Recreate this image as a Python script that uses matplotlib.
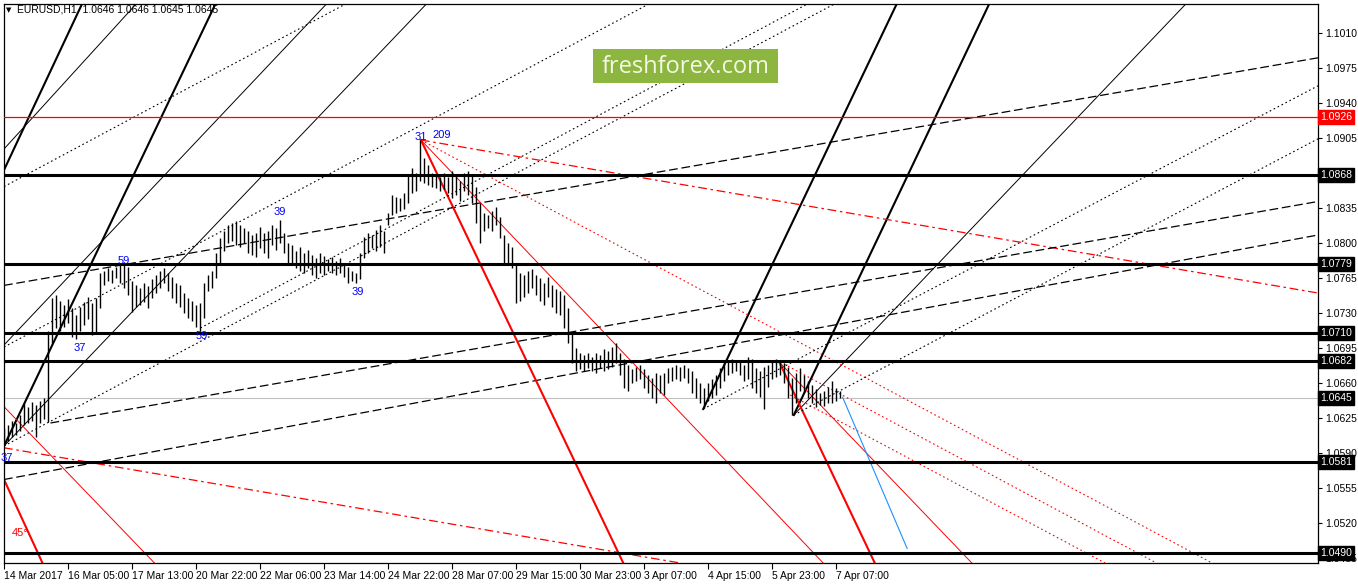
import matplotlib
matplotlib.use("Agg")
import matplotlib.pyplot as plt
import matplotlib.transforms as mtransforms
import numpy as np

plt.rcParams['font.family'] = ['Liberation Sans', 'DejaVu Sans']

# EURUSD H1 bars, one bar drawn every 2 hours (x = hour index)
highs = [1.0615, 1.0618, 1.0622, 1.0620, 1.0628, 1.0640, 1.0636, 1.0641, 1.0638, 1.0642,
         1.0645, 1.0712, 1.0745, 1.0748, 1.0742, 1.0738, 1.0744, 1.0735, 1.0728, 1.0736,
         1.0741, 1.0746, 1.0740, 1.0745, 1.0770, 1.0772, 1.0775, 1.0773, 1.0776, 1.0778,
         1.0779, 1.0776, 1.0762, 1.0758, 1.0755, 1.0760, 1.0757, 1.0764, 1.0768, 1.0772,
         1.0775, 1.0770, 1.0766, 1.0760, 1.0758, 1.0750, 1.0745, 1.0742, 1.0738, 1.0740,
         1.0760, 1.0768, 1.0772, 1.0790, 1.0805, 1.0812, 1.0818, 1.0820, 1.0822, 1.0818,
         1.0815, 1.0812, 1.0808, 1.0810, 1.0816, 1.0810, 1.0812, 1.0818, 1.0815, 1.0823,
         1.0810, 1.0800, 1.0798, 1.0792, 1.0796, 1.0790, 1.0793, 1.0788, 1.0785, 1.0790,
         1.0787, 1.0784, 1.0786, 1.0782, 1.0785, 1.0780, 1.0776, 1.0772, 1.0770, 1.0790,
         1.0806, 1.0810, 1.0808, 1.0813, 1.0818, 1.0812, 1.0830, 1.0848, 1.0846, 1.0845,
         1.0850, 1.0868, 1.0875, 1.0870, 1.0903, 1.0885, 1.0878, 1.0870, 1.0868, 1.0866,
         1.0870, 1.0866, 1.0872, 1.0868, 1.0862, 1.0870, 1.0872, 1.0868, 1.0856, 1.0840,
         1.0830, 1.0828, 1.0832, 1.0836, 1.0826, 1.0808, 1.0800, 1.0796, 1.0778, 1.0770,
         1.0768, 1.0772, 1.0774, 1.0768, 1.0765, 1.0760, 1.0766, 1.0758, 1.0754, 1.0752,
         1.0748, 1.0735, 1.0710, 1.0695, 1.0690, 1.0688, 1.0690, 1.0686, 1.0690, 1.0688,
         1.0694, 1.0692, 1.0696, 1.0700, 1.0690, 1.0684, 1.0678, 1.0674, 1.0676, 1.0678,
         1.0674, 1.0668, 1.0665, 1.0670, 1.0668, 1.0670, 1.0675, 1.0676, 1.0678, 1.0676,
         1.0678, 1.0675, 1.0672, 1.0665, 1.0660, 1.0655, 1.0660, 1.0664, 1.0668, 1.0675,
         1.0680, 1.0682, 1.0684, 1.0683, 1.0681, 1.0678, 1.0686, 1.0684, 1.0675, 1.0672,
         1.0676, 1.0678, 1.0682, 1.0684, 1.0682, 1.0680, 1.0676, 1.0665, 1.0670, 1.0675,
         1.0668, 1.0662, 1.0658, 1.0654, 1.0650, 1.0652, 1.0656, 1.0662, 1.0655, 1.0652]
lows = [1.0597, 1.0602, 1.0606, 1.0608, 1.0612, 1.0618, 1.0620, 1.0622, 1.0606, 1.0620,
        1.0624, 1.0621, 1.0700, 1.0715, 1.0712, 1.0716, 1.0720, 1.0706, 1.0704, 1.0712,
        1.0718, 1.0724, 1.0708, 1.0710, 1.0735, 1.0758, 1.0762, 1.0760, 1.0765, 1.0760,
        1.0755, 1.0748, 1.0731, 1.0736, 1.0738, 1.0741, 1.0735, 1.0745, 1.0750, 1.0755,
        1.0760, 1.0752, 1.0745, 1.0740, 1.0736, 1.0730, 1.0725, 1.0722, 1.0716, 1.0712,
        1.0725, 1.0752, 1.0755, 1.0765, 1.0780, 1.0792, 1.0800, 1.0802, 1.0798, 1.0796,
        1.0800, 1.0790, 1.0788, 1.0786, 1.0795, 1.0790, 1.0785, 1.0798, 1.0793, 1.0800,
        1.0790, 1.0780, 1.0778, 1.0775, 1.0772, 1.0770, 1.0775, 1.0768, 1.0765, 1.0770,
        1.0768, 1.0772, 1.0770, 1.0768, 1.0770, 1.0766, 1.0760, 1.0762, 1.0760, 1.0764,
        1.0785, 1.0790, 1.0795, 1.0792, 1.0796, 1.0790, 1.0818, 1.0828, 1.0830, 1.0832,
        1.0834, 1.0840, 1.0850, 1.0852, 1.0862, 1.0860, 1.0858, 1.0856, 1.0855, 1.0852,
        1.0854, 1.0850, 1.0845, 1.0848, 1.0842, 1.0852, 1.0848, 1.0840, 1.0820, 1.0800,
        1.0812, 1.0815, 1.0812, 1.0818, 1.0805, 1.0780, 1.0778, 1.0775, 1.0740, 1.0742,
        1.0746, 1.0750, 1.0755, 1.0748, 1.0742, 1.0738, 1.0746, 1.0736, 1.0730, 1.0728,
        1.0715, 1.0700, 1.0680, 1.0672, 1.0674, 1.0672, 1.0675, 1.0672, 1.0670, 1.0675,
        1.0672, 1.0674, 1.0676, 1.0680, 1.0668, 1.0655, 1.0652, 1.0660, 1.0662, 1.0664,
        1.0655, 1.0650, 1.0645, 1.0640, 1.0650, 1.0648, 1.0660, 1.0662, 1.0664, 1.0662,
        1.0665, 1.0660, 1.0650, 1.0645, 1.0640, 1.0635, 1.0642, 1.0645, 1.0648, 1.0655,
        1.0662, 1.0668, 1.0670, 1.0672, 1.0668, 1.0662, 1.0664, 1.0655, 1.0650, 1.0646,
        1.0634, 1.0656, 1.0664, 1.0666, 1.0668, 1.0660, 1.0645, 1.0628, 1.0640, 1.0652,
        1.0650, 1.0645, 1.0640, 1.0636, 1.0638, 1.0637, 1.0640, 1.0640, 1.0642, 1.0645]

# time axis labels every 32 hours
date_labels = ["14 Mar 2017", "16 Mar 05:00", "17 Mar 13:00", "20 Mar 22:00", "22 Mar 06:00",
               "23 Mar 14:00", "24 Mar 22:00", "28 Mar 07:00", "29 Mar 15:00", "30 Mar 23:00",
               "3 Apr 07:00", "4 Apr 15:00", "5 Apr 23:00", "7 Apr 07:00"]
date_pos = [0, 32, 64, 96, 128, 160, 192, 224, 256, 288, 320, 352, 384, 416]

price_ticks = [1.1010, 1.0975, 1.0940, 1.0905, 1.0870, 1.0835, 1.0800, 1.0765, 1.0730,
               1.0695, 1.0660, 1.0625, 1.0590, 1.0555, 1.0520, 1.0485]
hidden_ticks = [1.0870]  # covered by the 1.0868 level tag
black_levels = [1.0868, 1.0779, 1.0710, 1.0682, 1.0581, 1.0490]
red_level = 1.0926
last_price = 1.0645

# trendlines, (hour, price) pairs
full_lines = {  # drawn across the whole chart
    "thick_black": [((-0.25, 1.0873), (39, 1.1040)), ((-0.25, 1.0597), (105.75, 1.1040))],
    "thin_black": [((-0.25, 1.0894), (66.3, 1.1040)), ((-0.25, 1.0698), (161.5, 1.1040)),
                   ((-0.25, 1.0597), (211.5, 1.1040))],
    "thick_red": [((-0.25, 1.05635), (19, 1.0480))],
    "thin_red": [((-0.25, 1.06363), (75, 1.0480))],
    "dash_black": [((-0.25, 1.07576), (657, 1.09852)), ((-0.25, 1.05635), (657, 1.0808))],
    "dot_black": [((-0.25, 1.08564), (171.5, 1.1040)), ((-0.25, 1.0696), (323.25, 1.1040))],
}
segments = {
    "thick_black": [((349.5, 1.0634), (446.5, 1.1040)), ((394.8, 1.0628), (492.75, 1.1040))],
    "thin_black": [((394.8, 1.0628), (591.35, 1.1040))],
    "thick_red": [((208.3, 1.0903), (309.5, 1.0480)), ((387.5, 1.0681), (435.3, 1.0480))],
    "thin_red": [((208.3, 1.0903), (409.5, 1.0480)), ((387.5, 1.0681), (483.85, 1.0480))],
    "dashdot_red": [((208.3, 1.0903), (657, 1.0750)), ((-0.25, 1.05952), (338, 1.0480))],
    "dot_red": [((208.3, 1.0903), (604, 1.0480)), ((388, 1.0681), (576.2, 1.0480)),
                ((393, 1.0648), (550.5, 1.0480))],
    "dash_black": [((23, 1.0620), (657, 1.08415))],
    "dot_black": [((-0.25, 1.0597), (416, 1.1040)), ((98, 1.0715), (402.5, 1.1040)),
                  ((349.5, 1.0634), (657, 1.09572)), ((394.8, 1.0628), (657, 1.09042))],
    "blue": [((419.25, 1.06456), (451.5, 1.04945))],
}
styles = {
    "thick_black": dict(color="black", lw=1.5),
    "thin_black": dict(color="black", lw=0.7),
    "thick_red": dict(color="#ff0000", lw=1.5),
    "thin_red": dict(color="#ff0000", lw=0.7),
    "dashdot_red": dict(color="#ff0000", lw=0.9, dashes=(7, 3, 2, 3)),
    "dot_red": dict(color="#ff0000", lw=0.8, dashes=(1.5, 2.5)),
    "dash_black": dict(color="black", lw=0.9, dashes=(7, 3)),
    "dot_black": dict(color="black", lw=0.8, dashes=(1.5, 2.5)),
    "blue": dict(color="#1e90ff", lw=0.8),
}

# blue wave counts
count_labels = ["37", "59", "59", "39", "39", "31", "209", "37"]
count_x = [37.7, 59.8, 98.8, 137.8, 176.5, 208.3, 218.7, 1.2]
count_y = [1.0695, 1.0782, 1.0707, 1.0831, 1.0751, 1.0906, 1.0908, 1.0585]

W, H = 1358, 584
fig = plt.figure(figsize=(W / 100, H / 100), dpi=100)
fig.patch.set_facecolor("white")
ax = fig.add_axes([4 / W, 21 / H, 1314 / W, 559 / H])
ax.set_xlim(-0.25, 657)
ax.set_ylim(1.0480, 1.1039)

for lvl in black_levels:
    ax.axhline(lvl, color="black", lw=2.2, zorder=3)
ax.axhline(red_level, color="#ff0000", lw=0.9, zorder=3)
ax.axhline(last_price, color="#c0c0c0", lw=0.8, zorder=1)

for kind, lines in full_lines.items():
    for p1, p2 in lines:
        ax.axline(p1, p2, zorder=2, **styles[kind])
for kind, lines in segments.items():
    for p1, p2 in lines:
        ax.plot([p1[0], p2[0]], [p1[1], p2[1]], zorder=2, **styles[kind])

x = np.arange(len(highs)) * 2
ax.vlines(x, lows, highs, color="black", lw=1.0, zorder=4)

for t, bx, by in zip(count_labels, count_x, count_y):
    ax.text(bx, by, t, color="#0000ff", fontsize=8, ha="center", va="center", zorder=5)
ax.text(3.5, 1.0510, "45°", color="#ff0000", fontsize=8, ha="left", va="center", zorder=5)

# x axis
ax.set_xticks(date_pos)
ax.set_xticklabels(date_labels, fontsize=7.5)
for lab in ax.get_xticklabels():
    lab.set_ha("left")
ax.tick_params(axis="x", length=4, width=0.8, pad=2, direction="out")

# right price scale
ax.yaxis.tick_right()
ax.set_yticks(price_ticks)
ax.set_yticklabels(["" if p in hidden_ticks else f"{p:.4f}" for p in price_ticks], fontsize=7.5)
ax.tick_params(axis="y", length=3, width=0.8, pad=2, direction="out")

trans = mtransforms.blended_transform_factory(ax.transAxes, ax.transData)
for lvl in black_levels + [last_price]:
    ax.text(1.0015, lvl, f"{lvl:.4f}", transform=trans, fontsize=7.5, color="white",
            ha="left", va="center", zorder=10, clip_on=False,
            bbox=dict(boxstyle="square,pad=0.2", fc="black", ec="black"))
ax.text(1.0015, red_level, f"{red_level:.4f}", transform=trans, fontsize=7.5, color="white",
        ha="left", va="center", zorder=10, clip_on=False,
        bbox=dict(boxstyle="square,pad=0.2", fc="#ff0000", ec="#ff0000"))

for sp in ax.spines.values():
    sp.set_linewidth(0.9)

# header text
fig.text(6 / W, 1 - 10 / H, "\u25bc", fontsize=5, va="center", ha="left", family="DejaVu Sans")
fig.text(17 / W, 1 - 10 / H, "EURUSD,H1  1.0646 1.0646 1.0645 1.0645", fontsize=7.5,
         va="center", ha="left")

# logo
fig.patches.append(plt.Rectangle((593 / W, 1 - 83 / H), 185 / W, 34 / H,
                                 transform=fig.transFigure, fc="#8db641", ec="none", zorder=20))
fig.text(686 / W, 1 - 67 / H, "freshforex.com", fontsize=17, family="Open Sans",
         color="#f4f8e4", ha="center", va="center", zorder=21)

fig.savefig("out.png", dpi=100)
